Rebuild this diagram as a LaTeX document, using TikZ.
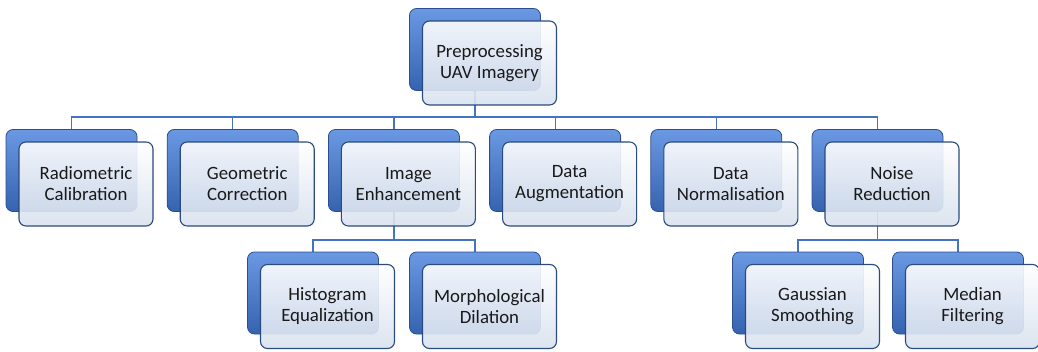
\documentclass[tikz,border=0pt]{standalone}
\usepackage{fontspec}
\setmainfont{Carlito}
\usetikzlibrary{backgrounds,calc}
\definecolor{blueA}{HTML}{6A98E2}
\definecolor{blueB}{HTML}{3563B0}
\definecolor{backborder}{HTML}{2B4F8C}
\definecolor{frontborder}{HTML}{2B4A80}
\definecolor{frontbot}{HTML}{D8E1EE}
\definecolor{linecol}{HTML}{4472C4}
\tikzset{
  backbox/.style={draw=backborder, line width=0.8pt, rounded corners=7pt,
    minimum width=131pt, minimum height=82pt, inner sep=0pt,
    top color=blueA, bottom color=blueB},
  frontbox/.style={draw=frontborder, line width=1.1pt, rounded corners=7pt,
    minimum width=134pt, minimum height=84pt, inner sep=1pt,
    top color=white, bottom color=frontbot, fill opacity=0.9, text opacity=1,
    align=center, text=black!90, font=\fontsize{18.8}{21}\selectfont},
  conn/.style={draw=linecol, line width=1.2pt},
}
\begin{document}
\begin{tikzpicture}[x=1pt,y=-1pt]
\useasboundingbox (0,0) rectangle (1038,351);
\coordinate (bus1) at (0,117);
\coordinate (bus2) at (0,240);
% root
\node[backbox] (rootb) at (475,49.5) {};
\node[frontbox] (root) at ($(rootb)+(14.5,13.5)$) {Preprocessing\\UAV Imagery};
% level 1
\foreach \n/\i/\t in {rad/0/{Radiometric\\Calibration}, geo/1/{Geometric\\Correction}, enh/2/{Image\\Enhancement}, aug/3/{Data\\Augmentation}, nor/4/{Data\\Normalisation}, noi/5/{Noise\\Reduction}}{
  \node[backbox] (\n b) at (71.5+161.2*\i,170.5) {};
  \node[frontbox] (\n) at ($(\n b)+(14.5,13.5)$) {\t};
}
% level 2
\foreach \n/\x/\t in {his/313/{Histogram\\Equalization}, mor/475/{Morphological\\Dilation}, gau/798/{Gaussian\\Smoothing}, med/958/{Median\\Filtering}}{
  \node[backbox] (\n b) at (\x,293) {};
  \node[frontbox] (\n) at ($(\n b)+(14.5,13.5)$) {\t};
}
\begin{pgfonlayer}{background}
  \foreach \c in {rad,geo,enh,aug,nor,noi}{
    \draw[conn] (rootb.south) -- (rootb.south |- bus1) -| (\c b.north);
  }
  \foreach \c in {his,mor}{
    \draw[conn] (enhb.south) -- (enhb.south |- bus2) -| (\c b.north);
  }
  \foreach \c in {gau,med}{
    \draw[conn] (noib.south) -- (noib.south |- bus2) -| (\c b.north);
  }
\end{pgfonlayer}
\end{tikzpicture}
\end{document}
